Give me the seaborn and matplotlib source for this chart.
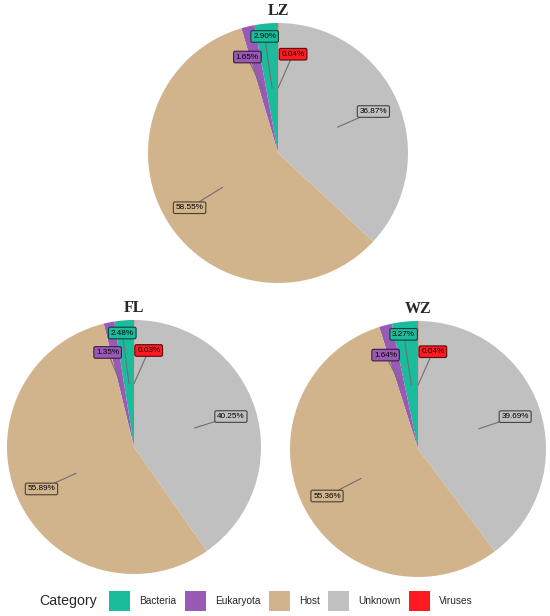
import numpy as np
import matplotlib
matplotlib.use("Agg")
import matplotlib.pyplot as plt
import matplotlib.colors as mcolors
from matplotlib.patches import Patch
from matplotlib.offsetbox import HPacker
import seaborn as sns

# data
categories = ["Bacteria", "Eukaryota", "Host", "Unknown", "Viruses"]
lz_values = [2.90, 1.65, 58.55, 36.87, 0.04]
fl_values = [2.48, 1.35, 55.89, 40.25, 0.03]
wz_values = [3.27, 1.64, 55.36, 39.69, 0.04]
colors = ["#1ABC9C", "#9B59B6", "#D2B48C", "#C0C0C0", "#FF1A22"]

# repel-like nudges for label boxes (radius units), small slices only
nudges = {"Bacteria": (-0.03, 0.10), "Eukaryota": (-0.05, -0.04),
          "Viruses": (0.115, -0.04)}

sns.set_theme(style="white")
plt.rcParams["font.family"] = ["Liberation Sans", "DejaVu Sans"]

W, H = 550, 616
fig = plt.figure(figsize=(W / 100, H / 100), dpi=100)


def pie_axes(cx, cy, r):
    return fig.add_axes([(cx - r) / W, 1 - (cy + r) / H, 2 * r / W, 2 * r / H])


def draw_pie(ax, values, title, r_px):
    ax.pie(values, colors=colors, startangle=90, counterclock=True,
           radius=1, wedgeprops=dict(linewidth=0))
    ax.set_xlim(-1, 1)
    ax.set_ylim(-1, 1)
    ax.set_aspect("equal")
    ax.axis("off")
    total = sum(values)
    start = 0.0
    for cat, v, col in zip(categories, values, colors):
        mid = (start + v / 2) / total * 2 * np.pi
        start += v
        ux, uy = -np.sin(mid), np.cos(mid)
        lx, ly = 0.8 * ux, 0.8 * uy
        dx, dy = nudges.get(cat, (0, 0))
        lx += dx
        ly += dy
        edge = tuple(c * 0.35 for c in mcolors.to_rgb(col))
        ax.annotate(f"{v:.2f}%", xy=(0.5 * ux, 0.5 * uy), xytext=(lx, ly),
                    ha="center", va="center", fontsize=5.9, color="black",
                    bbox=dict(boxstyle="round,pad=0.28,rounding_size=0.2",
                              fc=col, ec=edge, lw=0.8),
                    arrowprops=dict(arrowstyle="-", color="#6f6f6f", lw=0.8,
                                    shrinkA=0, shrinkB=0))
    ax.text(0, 1 + 12 / r_px, title, ha="center", va="center",
            fontsize=11.5, fontweight="bold", family="Liberation Serif")


draw_pie(pie_axes(278, 153, 130), lz_values, "LZ", 130)
draw_pie(pie_axes(134, 447, 127), fl_values, "FL", 127)
draw_pie(pie_axes(418, 449, 128), wz_values, "WZ", 128)

handles = [Patch(facecolor=c, edgecolor="none") for c in colors]
leg = fig.legend(handles, categories, loc="center",
                 bbox_to_anchor=(256 / W, 1 - 601 / H),
                 ncol=5, frameon=False, title="Category", fontsize=7.3,
                 title_fontsize=10.2, handlelength=2.1, handleheight=2.8,
                 columnspacing=0.8, handletextpad=0.9, borderaxespad=0)
# put the title on the left of the entries
leg._legend_box._children = [HPacker(pad=0, sep=9, align="center",
                                     children=[leg._legend_title_box,
                                               leg._legend_handle_box])]

fig.savefig("out.png", dpi=100)
